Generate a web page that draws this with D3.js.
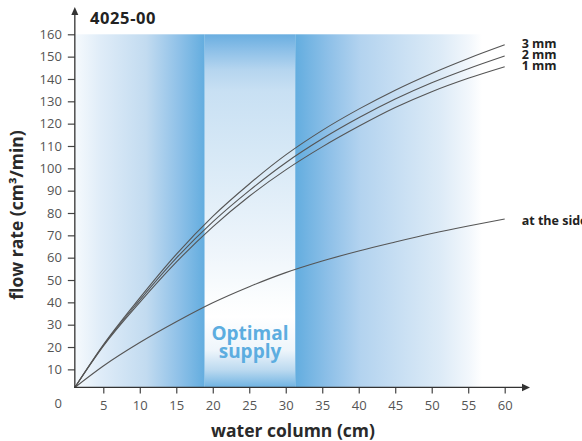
<!DOCTYPE html>
<html>
<head>
<meta charset="utf-8">
<script src="https://cdn.jsdelivr.net/npm/d3@7"></script>
<style>
  body { margin: 0; background: #fff; }
  svg { display: block; font-family: 'Open Sans', sans-serif; }
</style>
</head>
<body>
<div class="chart"></div>
<script>
// ======= FLOW RATE CHART 4025-00 ===========

const waterColumn = [1.1, 5, 10, 15, 20, 25, 30, 35, 40, 45, 50, 55, 60]
const flow3mm = [1.9, 21, 42, 61.5, 78.5, 93, 106, 117, 126.5, 135, 142.5, 149.2, 155.3]
const flow2mm = [1.9, 20.7, 41, 59.8, 76, 90, 102.5, 113.2, 122.6, 131, 138.3, 144.6, 150.3]
const flow1mm = [1.9, 20.4, 40, 58, 73.8, 87.5, 99.3, 109.6, 118.8, 127.2, 134.3, 140.3, 145.5]
const flowSide = [1.9, 11.5, 22, 31.3, 39.8, 47, 53.3, 58.5, 63, 67, 70.8, 74.2, 77.3]
const seriesNames = ['3 mm', '2 mm', '1 mm', 'at the side']

const xTicks = [5, 10, 15, 20, 25, 30, 35, 40, 45, 50, 55, 60]
const yTicks = [10, 20, 30, 40, 50, 60, 70, 80, 90, 100, 110, 120, 130, 140, 150, 160]

// where the axes cross, and the shaded bands (water column cm)
const axisOrigin = [1.1, 1.9]
const optimalBand = [18.9, 31.3]
const shadeEnd = 56.9

const width = 582
const height = 441

const svg = d3.select('.chart')
  .append('svg')
    .attr('width', width)
    .attr('height', height)

const xScale = d3.scaleLinear()
  .domain([0, 60])
  .range([66.8, 504.7])

const yScale = d3.scaleLinear()
  .domain([0, 160])
  .range([391.7, 34.3])

const x0 = xScale(axisOrigin[0])
const y0 = yScale(axisOrigin[1])
const yTop = yScale(160)

// gradients
const defs = svg.append('defs')
function gradient (id, stops, vertical) {
  const g = defs.append('linearGradient')
    .attr('id', id)
    .attr('x1', 0).attr('y1', 0)
    .attr('x2', vertical ? 0 : 1).attr('y2', vertical ? 1 : 0)
  stops.forEach(s => g.append('stop').attr('offset', s[0]).attr('stop-color', s[1]))
}
gradient('leftBand', [[0, '#f6fafd'], [0.2, '#dfecf8'], [0.55, '#c2dbf0'], [0.8, '#8fc1e8'], [1, '#63addf']])
gradient('rightBand', [[0, '#63addf'], [0.18, '#8ec0e8'], [0.35, '#b3d3ef'], [0.56, '#c8dff3'], [0.78, '#ddebf7'], [0.93, '#f2f7fc'], [1, '#ffffff']])
gradient('midBand', [[0, '#6aaee0'], [0.045, '#8dc0e8'], [0.1, '#b5d5ef'], [0.16, '#c8e0f3'], [0.33, '#d6e8f6'],
  [0.61, '#eef5fb'], [0.75, '#fbfdfe'], [0.8, '#ffffff'], [0.895, '#eef5fb'], [0.95, '#bcdaf0'], [1, '#6fb3e2']], true)

svg.append('rect')
  .attr('x', x0)
  .attr('y', yTop)
  .attr('width', xScale(optimalBand[0]) - x0)
  .attr('height', y0 - yTop)
  .attr('fill', 'url(#leftBand)')

svg.append('rect')
  .attr('x', xScale(optimalBand[0]))
  .attr('y', yTop)
  .attr('width', xScale(optimalBand[1]) - xScale(optimalBand[0]))
  .attr('height', y0 - yTop)
  .attr('fill', 'url(#midBand)')

svg.append('rect')
  .attr('x', xScale(optimalBand[1]))
  .attr('y', yTop)
  .attr('width', xScale(shadeEnd) - xScale(optimalBand[1]))
  .attr('height', y0 - yTop)
  .attr('fill', 'url(#rightBand)')

// optimal supply text
const midX = (xScale(optimalBand[0]) + xScale(optimalBand[1])) / 2
svg.append('text')
  .attr('x', midX)
  .attr('text-anchor', 'middle')
  .attr('fill', '#5cade0')
  .style('font-weight', 700)
  .style('font-size', '19px')
  .selectAll('tspan')
  .data(['Optimal', 'supply'])
  .enter()
  .append('tspan')
    .attr('x', midX)
    .attr('y', (d, i) => 340 + i * 18)
    .text(d => d)

// curves
const series = [flow3mm, flow2mm, flow1mm, flowSide]
const line = d3.line()
  .x((d, i) => xScale(waterColumn[i]))
  .y(d => yScale(d))
  .curve(d3.curveMonotoneX)

svg.selectAll('path.curve')
  .data(series)
  .enter()
  .append('path')
    .attr('class', 'curve')
    .attr('d', line)
    .attr('fill', 'none')
    .attr('stroke', '#555')
    .attr('stroke-width', 1.1)

svg.selectAll('text.series')
  .data(series)
  .enter()
  .append('text')
    .attr('class', 'series')
    .attr('x', xScale(60) + 17)
    .attr('y', (d, i) => yScale(d[d.length - 1]) + (i === 3 ? 6 : 3))
    .attr('fill', '#222')
    .style('font-weight', 700)
    .style('font-size', '12.5px')
    .text((d, i) => seriesNames[i])

// axes
const yAxis = d3.axisLeft(yScale)
  .tickValues(yTicks)
  .tickSize(7)
  .tickPadding(6)
svg.append('g')
  .attr('transform', `translate(${x0}, 0)`)
  .call(yAxis)
  .call(g => g.select('.domain').remove())

const xAxis = d3.axisBottom(xScale)
  .tickValues(xTicks)
  .tickSize(6)
  .tickPadding(7)
svg.append('g')
  .attr('transform', `translate(0, ${y0})`)
  .call(xAxis)
  .call(g => g.select('.domain').remove())

svg.selectAll('.tick line').attr('stroke', '#444').attr('stroke-width', 1.2)
svg.selectAll('.tick text')
  .attr('fill', '#555')
  .style('font-size', '13px')
  .style('font-family', "'Open Sans', sans-serif")

// shared zero label
svg.append('text')
  .attr('x', x0 - 13)
  .attr('y', y0 + 21)
  .attr('text-anchor', 'end')
  .attr('fill', '#555')
  .style('font-size', '13px')
  .text('0')

// axis lines with arrows
svg.append('line')
  .attr('x1', x0).attr('y1', y0 + 0.5)
  .attr('x2', x0).attr('y2', 12)
  .attr('stroke', '#333').attr('stroke-width', 1.3)
svg.append('path')
  .attr('d', `M${x0},7 L${x0 + 3.5},15 L${x0 - 3.5},15 Z`)
  .attr('fill', '#333')

svg.append('line')
  .attr('x1', x0 - 0.5).attr('y1', y0)
  .attr('x2', 525).attr('y2', y0)
  .attr('stroke', '#333').attr('stroke-width', 1.3)
svg.append('path')
  .attr('d', `M530,${y0} L522,${y0 - 3.8} L522,${y0 + 3.8} Z`)
  .attr('fill', '#333')

// titles
svg.append('text')
  .attr('x', 90)
  .attr('y', 24)
  .attr('fill', '#222')
  .style('font-weight', 700)
  .style('font-size', '16.5px')
  .style('letter-spacing', '0.6px')
  .text('4025-00')

svg.append('text')
  .attr('x', 293)
  .attr('y', 437)
  .attr('text-anchor', 'middle')
  .attr('fill', '#2a2a2a')
  .style('font-weight', 700)
  .style('font-size', '17.5px')
  .text('water column (cm)')

svg.append('text')
  .attr('transform', 'translate(23, 215) rotate(-90)')
  .attr('text-anchor', 'middle')
  .attr('fill', '#2a2a2a')
  .style('font-weight', 700)
  .style('font-size', '17.5px')
  .text('flow rate (cm³/min)')
</script>
</body>
</html>
